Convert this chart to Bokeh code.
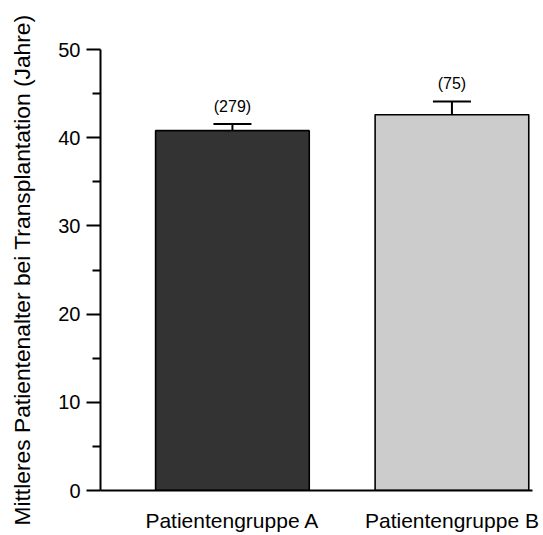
from bokeh.plotting import figure
from bokeh.models import (ColumnDataSource, Range1d, FixedTicker, Whisker,
                          TeeHead, LabelSet)
from bokeh.core.properties import value
from bokeh.embed import file_html
from bokeh.resources import INLINE

# Mean age at transplantation per patient group, with SEM and group size
groups = ["Patientengruppe A", "Patientengruppe B"]
positions = [1, 2]
mean_age = [40.8, 42.6]
sem = [0.75, 1.5]
counts = ["(279)", "(75)"]
colors = ["#333333", "#cccccc"]
y_ticks = [0, 10, 20, 30, 40, 50]
y_minor = [5, 15, 25, 35, 45]

FONT = "Liberation Sans"

src = ColumnDataSource(dict(
    x=positions,
    top=mean_age,
    upper=[m + s for m, s in zip(mean_age, sem)],
    color=colors,
    label=counts,
))

p = figure(
    frame_width=432, frame_height=441,
    min_border_left=100, min_border_right=11,
    min_border_top=49, min_border_bottom=45,
    x_range=Range1d(0.399, 2.367), y_range=Range1d(0, 50),
    output_backend="svg", toolbar_location=None,
)
p.outline_line_color = None
p.xgrid.visible = False
p.ygrid.visible = False

p.vbar(x="x", top="top", width=0.70, bottom=0, source=src,
       fill_color="color", line_color="black", line_width=1.6)

err = Whisker(base="x", upper="upper", lower="top", source=src,
              line_color="black", line_width=2,
              upper_head=TeeHead(size=38, line_color="black", line_width=2),
              lower_head=None)
p.add_layout(err)

p.add_layout(LabelSet(x="x", y="upper", text="label", source=src,
                      y_offset=18, text_align="center", text_baseline="middle",
                      text_font=value(FONT), text_font_size="16px",
                      text_color="black"))

# y axis
ya = p.yaxis[0]
ya.ticker = FixedTicker(ticks=y_ticks, minor_ticks=y_minor)
ya.major_tick_out = 14
ya.major_tick_in = 0
ya.minor_tick_out = 8
ya.minor_tick_in = 0
ya.axis_line_width = 2
ya.major_tick_line_width = 2
ya.minor_tick_line_width = 2
ya.major_label_text_font = FONT
ya.major_label_text_font_size = "20px"
ya.major_label_text_color = "black"
ya.major_label_standoff = 6
ya.axis_label = "Mittleres Patientenalter bei Transplantation (Jahre)"
ya.axis_label_text_font = FONT
ya.axis_label_text_font_size = "22.8px"
ya.axis_label_text_font_style = "normal"
ya.axis_label_text_color = "black"
ya.axis_label_standoff = 20

# x axis
xa = p.xaxis[0]
xa.ticker = FixedTicker(ticks=positions)
xa.major_label_overrides = {pos: name for pos, name in zip(positions, groups)}
xa.major_tick_out = 0
xa.major_tick_in = 0
xa.minor_tick_line_color = None
xa.axis_line_width = 2
xa.major_label_text_font = FONT
xa.major_label_text_font_size = "21px"
xa.major_label_text_color = "black"
xa.major_label_standoff = 18

open("out.html", "w").write(file_html(p, INLINE))
